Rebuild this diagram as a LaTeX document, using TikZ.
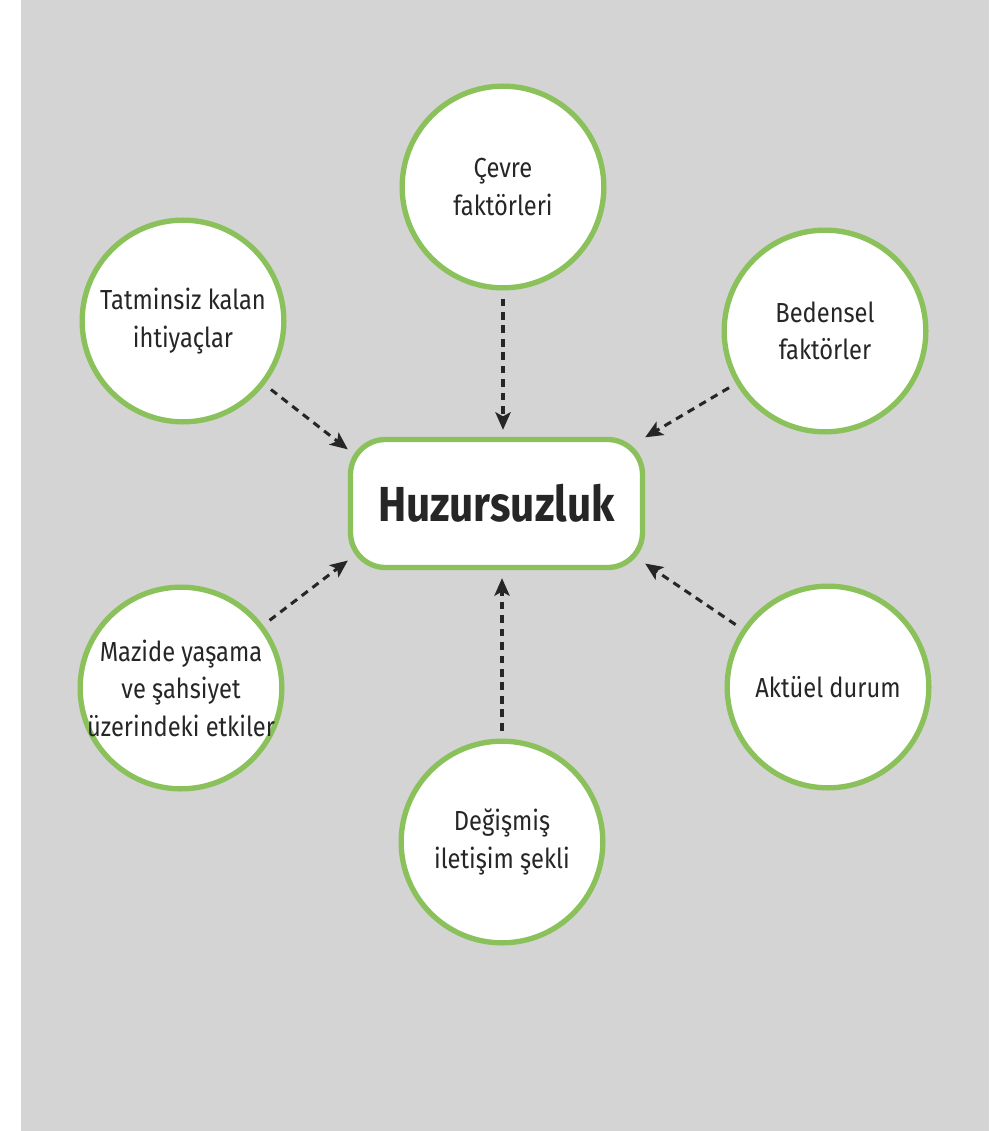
\documentclass[tikz,border=0pt]{standalone}
\usepackage{fontspec}
\setmainfont{Fira Sans}[FakeStretch=0.86]
\usepackage{tikz}
\usetikzlibrary{arrows.meta}
\definecolor{bggray}{HTML}{D4D4D4}
\definecolor{leafgreen}{HTML}{8BC15A}
\definecolor{inkgray}{HTML}{262626}
\tikzset{
 bubble/.style={circle, draw=leafgreen, line width=0.16cm, fill=white,
   minimum size=6.05cm, inner sep=-20pt, align=center, text=inkgray,
   font=\fontsize{23.5}{32}\selectfont},
 centerbox/.style={rectangle, rounded corners=1.05cm, draw=leafgreen,
   line width=0.16cm, fill=white, minimum width=8.76cm, minimum height=3.84cm,
   text=inkgray, font=\fontsize{42}{48}\selectfont\bfseries},
 dasharrow/.style={draw=inkgray, line width=2.6pt, dash pattern=on 6.5pt off 5pt,
   -{Stealth[length=15pt,width=13pt,inset=3.5pt]}, shorten <=0.24cm}
}

\begin{document}
\begin{tikzpicture}[x=0.03cm, y=-0.03cm]
\useasboundingbox (0,0) rectangle (1002,1131);
\fill[bggray] (21,0) rectangle (989,1131);
\node[centerbox] (hz) at (496.5,503.5) {Huzursuzluk};
\node[bubble] (cevre) at (503,187) {Çevre\\faktörleri};
\node[bubble] (beden) at (825,331) {Bedensel\\faktörler};
\node[bubble] (tatmin) at (183,321) {Tatminsiz kalan\\ihtiyaçlar};
\node[bubble] (mazi) at (181,688) {Mazide yaşama\\ve şahsiyet\\üzerindeki etkiler};
\node[bubble] (aktuel) at (828,687) {Aktüel durum};
\node[bubble] (degis) at (502,842) {Değişmiş\\iletişim şekli};
\foreach \src/\ang in {tatmin/160, beden/24, aktuel/-22, mazi/201}
 \draw[dasharrow] (\src) -- (hz.\ang);
\draw[dasharrow, shorten >=0.21cm] (cevre) -- (cevre |- hz.north);
\draw[dasharrow, shorten >=0.24cm] (degis) -- (degis |- hz.south);
\end{tikzpicture}
\end{document}
